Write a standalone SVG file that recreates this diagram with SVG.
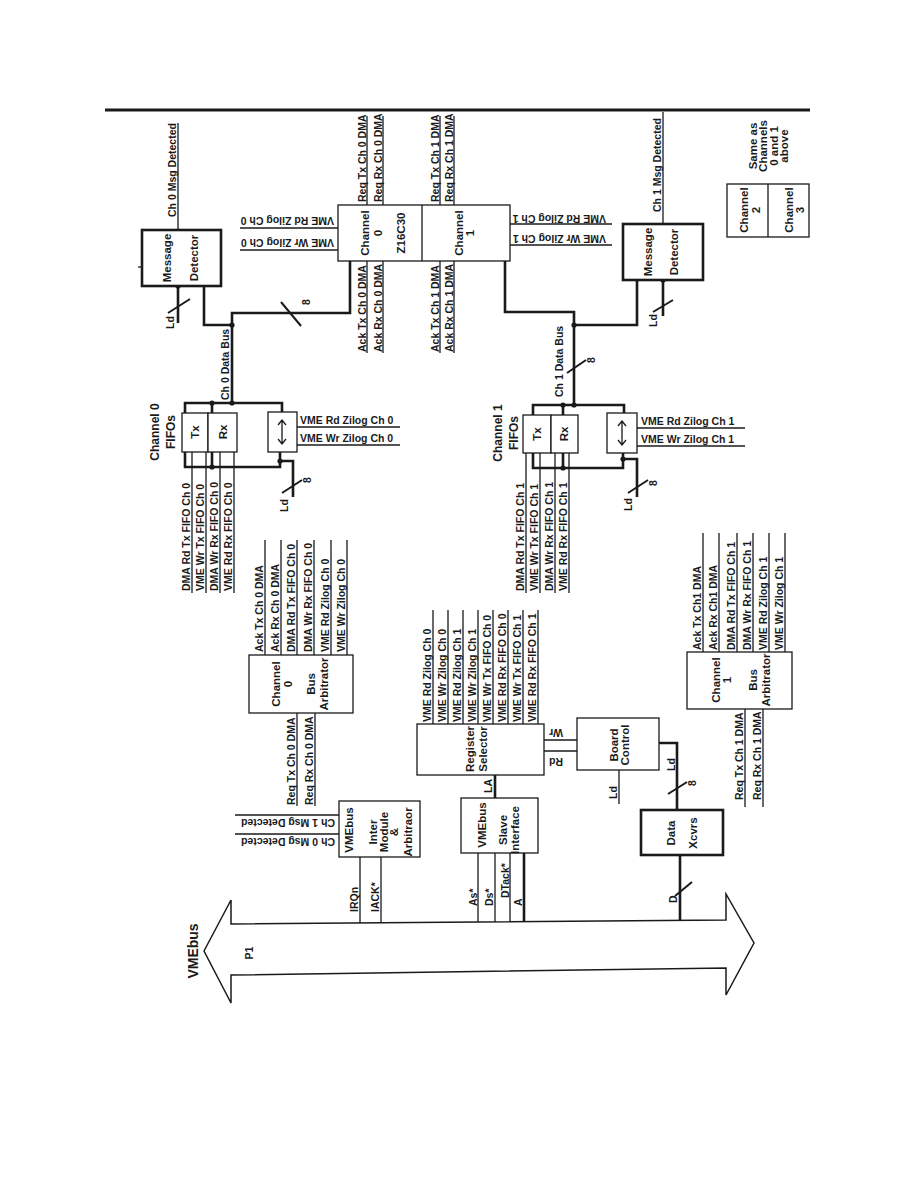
<svg xmlns="http://www.w3.org/2000/svg" width="918" height="1188" viewBox="0 0 918 1188">
<style>
text{font-family:"Liberation Sans",Arial,sans-serif;font-weight:bold;fill:#1a1a1a}
.s{font-size:10.5px}
.m{font-size:10.5px;text-anchor:middle}
.b{font-size:11.5px;text-anchor:middle}
.L{font-size:12px;text-anchor:middle}
.bx{fill:#fff;stroke:#1a1a1a;stroke-width:1.3}
.bk{fill:#fff;stroke:#1a1a1a;stroke-width:2.6}
.w{fill:none;stroke:#1a1a1a;stroke-width:1.3}
.t{fill:none;stroke:#1a1a1a;stroke-width:2.6}
.sl{fill:none;stroke:#1a1a1a;stroke-width:2}
.d{fill:#1a1a1a}
</style>
<rect width="918" height="1188" fill="#fff"/>
<line x1="105" y1="110" x2="810" y2="110" stroke="#1a1a1a" stroke-width="3"/>

<g id="connectors">
<line class="w" x1="367" y1="116" x2="367" y2="205"/>
<line class="w" x1="383" y1="116" x2="383" y2="205"/>
<line class="w" x1="367" y1="261" x2="367" y2="353"/>
<line class="w" x1="383" y1="261" x2="383" y2="353"/>
<line class="w" x1="440" y1="116" x2="440" y2="205"/>
<line class="w" x1="454" y1="116" x2="454" y2="205"/>
<line class="w" x1="440" y1="261" x2="440" y2="353"/>
<line class="w" x1="454" y1="261" x2="454" y2="353"/>
<line class="w" x1="240" y1="228" x2="338" y2="228"/>
<line class="w" x1="240" y1="250" x2="338" y2="250"/>
<line class="w" x1="510" y1="224" x2="612" y2="224"/>
<line class="w" x1="510" y1="245" x2="612" y2="245"/>
<line class="w" x1="178" y1="123" x2="178" y2="230"/>
<line class="w" x1="663" y1="112" x2="663" y2="224"/>
<line class="w" x1="138" y1="267" x2="142" y2="267"/>
<polyline class="t" points="350,261 350,313 232,313 232,403"/>
<polyline class="t" points="204,286 204,325 232,325"/>
<line class="t" x1="178" y1="286" x2="178" y2="323"/>
<line class="sl" x1="168" y1="313" x2="190" y2="299"/>
<line class="sl" x1="281" y1="302" x2="301" y2="326"/>
<circle class="d" cx="178" cy="286" r="2.6"/>
<circle class="d" cx="232" cy="325" r="2.6"/>
<polyline class="t" points="185,413 185,403 282,403 282,412"/>
<line class="t" x1="212" y1="403" x2="212" y2="413"/>
<polyline class="t" points="185,452 185,467 280,467 280,452"/>
<line class="t" x1="212" y1="452" x2="212" y2="467"/>
<polyline class="t" points="280,461 293,461 293,497"/>
<line class="sl" x1="282" y1="493" x2="302" y2="480"/>
<circle class="d" cx="212" cy="403" r="2.6"/>
<circle class="d" cx="232" cy="403" r="2.6"/>
<circle class="d" cx="212" cy="467" r="2.6"/>
<circle class="d" cx="280" cy="461" r="2.6"/>
<line class="w" x1="297" y1="427" x2="400" y2="427"/>
<line class="w" x1="297" y1="445" x2="400" y2="445"/>
<line class="w" x1="192" y1="452" x2="192" y2="593"/>
<line class="w" x1="206" y1="452" x2="206" y2="593"/>
<line class="w" x1="220" y1="452" x2="220" y2="593"/>
<line class="w" x1="234" y1="452" x2="234" y2="593"/>
<polyline class="t" points="505,259 505,312 574,312 574,405"/>
<polyline class="t" points="637,280 637,325 574,325"/>
<line class="t" x1="663" y1="280" x2="663" y2="316"/>
<line class="sl" x1="653" y1="312" x2="673" y2="300"/>
<line class="sl" x1="567" y1="373" x2="586" y2="360"/>
<circle class="d" cx="574" cy="325" r="2.6"/>
<circle class="d" cx="663" cy="280" r="2.6"/>
<polyline class="t" points="533,415 533,405 624,405 624,413"/>
<line class="t" x1="563" y1="405" x2="563" y2="415"/>
<polyline class="t" points="533,453 533,468 623,468 623,453"/>
<line class="t" x1="563" y1="453" x2="563" y2="468"/>
<polyline class="t" points="623,459 637,459 637,497"/>
<line class="sl" x1="628" y1="493" x2="648" y2="480"/>
<circle class="d" cx="563" cy="405" r="2.6"/>
<circle class="d" cx="574" cy="405" r="2.6"/>
<circle class="d" cx="563" cy="468" r="2.6"/>
<circle class="d" cx="623" cy="459" r="2.6"/>
<line class="w" x1="637" y1="428" x2="745" y2="428"/>
<line class="w" x1="637" y1="446" x2="745" y2="446"/>
<line class="w" x1="526" y1="453" x2="526" y2="593"/>
<line class="w" x1="540" y1="453" x2="540" y2="593"/>
<line class="w" x1="555" y1="453" x2="555" y2="593"/>
<line class="w" x1="569" y1="453" x2="569" y2="593"/>
<line class="w" x1="265" y1="540" x2="265" y2="655"/>
<line class="w" x1="281" y1="540" x2="281" y2="655"/>
<line class="w" x1="297" y1="540" x2="297" y2="655"/>
<line class="w" x1="314" y1="540" x2="314" y2="655"/>
<line class="w" x1="331" y1="540" x2="331" y2="655"/>
<line class="w" x1="347" y1="540" x2="347" y2="655"/>
<line class="w" x1="297" y1="713" x2="297" y2="806"/>
<line class="w" x1="315" y1="713" x2="315" y2="806"/>
<line class="w" x1="703" y1="533" x2="703" y2="652"/>
<line class="w" x1="719" y1="533" x2="719" y2="652"/>
<line class="w" x1="737" y1="533" x2="737" y2="652"/>
<line class="w" x1="753" y1="533" x2="753" y2="652"/>
<line class="w" x1="769" y1="533" x2="769" y2="652"/>
<line class="w" x1="785" y1="533" x2="785" y2="652"/>
<line class="w" x1="745" y1="709" x2="745" y2="807"/>
<line class="w" x1="763" y1="709" x2="763" y2="807"/>
<line class="w" x1="433" y1="610" x2="433" y2="724"/>
<line class="w" x1="448" y1="610" x2="448" y2="724"/>
<line class="w" x1="463" y1="610" x2="463" y2="724"/>
<line class="w" x1="478" y1="610" x2="478" y2="724"/>
<line class="w" x1="493" y1="610" x2="493" y2="724"/>
<line class="w" x1="508" y1="610" x2="508" y2="724"/>
<line class="w" x1="523" y1="610" x2="523" y2="724"/>
<line class="w" x1="538" y1="610" x2="538" y2="724"/>
<line class="w" x1="544" y1="740" x2="577" y2="740"/>
<line class="w" x1="544" y1="751" x2="577" y2="751"/>
<line class="t" x1="495" y1="775" x2="495" y2="798"/>
<line class="w" x1="619" y1="770" x2="619" y2="804"/>
<polyline class="t" points="659,743 677,743 677,810"/>
<line class="sl" x1="668" y1="794" x2="687" y2="782"/>
<line class="w" x1="235" y1="815" x2="339" y2="815"/>
<line class="w" x1="235" y1="834" x2="339" y2="834"/>
<line class="w" x1="360" y1="857" x2="360" y2="923"/>
<line class="w" x1="381" y1="857" x2="381" y2="923"/>
<line class="w" x1="478" y1="853" x2="478" y2="922"/>
<line class="w" x1="495" y1="853" x2="495" y2="922"/>
<line class="w" x1="510" y1="853" x2="510" y2="922"/>
<line class="t" x1="524" y1="853" x2="524" y2="922"/>
<line class="t" x1="680" y1="855" x2="680" y2="921"/>
<line class="sl" x1="675" y1="896" x2="692" y2="882"/>
</g>

<g id="vmebus">
<polygon fill="none" stroke="#1a1a1a" stroke-width="1.5" points="204,951 231,900 231,924 726,920 726,894 754,943 726,995 726,968 231,975 231,1003"/>
<text transform="translate(198,951) rotate(-90)" style="font-size:14px;text-anchor:middle">VMEbus</text>
<text class="m" transform="translate(253,953) rotate(-90)">P1</text>
</g>

<g id="labels">
<text class="s" transform="translate(365.5,202) rotate(-90)">Req Tx Ch 0 DMA</text>
<text class="s" transform="translate(381.5,202) rotate(-90)">Req Rx Ch 0 DMA</text>
<text class="s" transform="translate(365.5,352) rotate(-90)">Ack Tx Ch 0 DMA</text>
<text class="s" transform="translate(381.5,352) rotate(-90)">Ack Rx Ch 0 DMA</text>
<text class="s" transform="translate(438.5,202) rotate(-90)">Req Tx Ch 1 DMA</text>
<text class="s" transform="translate(452.5,202) rotate(-90)">Req Rx Ch 1 DMA</text>
<text class="s" transform="translate(438.5,352) rotate(-90)">Ack Tx Ch 1 DMA</text>
<text class="s" transform="translate(452.5,352) rotate(-90)">Ack Rx Ch 1 DMA</text>
<text class="s" transform="translate(334,217) rotate(180)">VME Rd Zilog Ch 0</text>
<text class="s" transform="translate(334,239) rotate(180)">VME Wr Zilog Ch 0</text>
<text class="s" transform="translate(606,215) rotate(180)">VME Rd Zilog Ch 1</text>
<text class="s" transform="translate(606,235) rotate(180)">VME Wr Zilog Ch 1</text>
<text class="s" transform="translate(176,217) rotate(-90)">Ch 0 Msg Detected</text>
<text class="s" transform="translate(661,212) rotate(-90)">Ch 1 Msg Detected</text>
<text class="s" transform="translate(174,329) rotate(-90)">Ld</text>
<text class="m" transform="translate(310,302) rotate(-90)">8</text>
<text class="s" transform="translate(229,400) rotate(-90)">Ch 0 Data Bus</text>
<text class="s" transform="translate(288,512) rotate(-90)">Ld</text>
<text class="m" transform="translate(311,480) rotate(-90)">8</text>
<text class="s" x="300" y="424">VME Rd Zilog Ch 0</text>
<text class="s" x="300" y="442">VME Wr Zilog Ch 0</text>
<text class="s" transform="translate(190,591) rotate(-90)">DMA Rd Tx FIFO Ch 0</text>
<text class="s" transform="translate(204,591) rotate(-90)">VME Wr Tx FIFO Ch 0</text>
<text class="s" transform="translate(218,591) rotate(-90)">DMA Wr Rx FIFO Ch 0</text>
<text class="s" transform="translate(232,591) rotate(-90)">VME Rd Rx FIFO Ch 0</text>
<text class="s" transform="translate(657,327) rotate(-90)">Ld</text>
<text class="m" transform="translate(595,360) rotate(-90)">8</text>
<text class="s" transform="translate(563,397) rotate(-90)">Ch 1 Data Bus</text>
<text class="s" transform="translate(632,511) rotate(-90)">Ld</text>
<text class="m" transform="translate(657,483) rotate(-90)">8</text>
<text class="s" x="641" y="425">VME Rd Zilog Ch 1</text>
<text class="s" x="641" y="443">VME Wr Zilog Ch 1</text>
<text class="s" transform="translate(524,591) rotate(-90)">DMA Rd Tx FIFO Ch 1</text>
<text class="s" transform="translate(538,591) rotate(-90)">VME Wr Tx FIFO Ch 1</text>
<text class="s" transform="translate(553,591) rotate(-90)">DMA Wr Rx FIFO Ch 1</text>
<text class="s" transform="translate(567,591) rotate(-90)">VME Rd Rx FIFO Ch 1</text>
<text class="s" transform="translate(263,652) rotate(-90)">Ack Tx Ch 0 DMA</text>
<text class="s" transform="translate(279,652) rotate(-90)">Ack Rx Ch 0 DMA</text>
<text class="s" transform="translate(295,652) rotate(-90)">DMA Rd Tx FIFO Ch 0</text>
<text class="s" transform="translate(312,652) rotate(-90)">DMA Wr Rx FIFO Ch 0</text>
<text class="s" transform="translate(329,652) rotate(-90)">VME Rd Zilog Ch 0</text>
<text class="s" transform="translate(345,652) rotate(-90)">VME Wr Zilog Ch 0</text>
<text class="s" transform="translate(295,805) rotate(-90)">Req Tx Ch 0 DMA</text>
<text class="s" transform="translate(313,805) rotate(-90)">Req Rx Ch 0 DMA</text>
<text class="s" transform="translate(701,650) rotate(-90)">Ack Tx Ch1 DMA</text>
<text class="s" transform="translate(717,650) rotate(-90)">Ack Rx Ch1 DMA</text>
<text class="s" transform="translate(735,650) rotate(-90)">DMA Rd Tx FIFO Ch 1</text>
<text class="s" transform="translate(751,650) rotate(-90)">DMA Wr Rx FIFO Ch 1</text>
<text class="s" transform="translate(767,650) rotate(-90)">VME Rd Zilog Ch 1</text>
<text class="s" transform="translate(783,650) rotate(-90)">VME Wr Zilog Ch 1</text>
<text class="s" transform="translate(743,800) rotate(-90)">Req Tx Ch 1 DMA</text>
<text class="s" transform="translate(761,800) rotate(-90)">Req Rx Ch 1 DMA</text>
<text class="s" transform="translate(431,722) rotate(-90)">VME Rd Zilog Ch 0</text>
<text class="s" transform="translate(446,722) rotate(-90)">VME Wr Zilog Ch 0</text>
<text class="s" transform="translate(461,722) rotate(-90)">VME Rd Zilog Ch 1</text>
<text class="s" transform="translate(476,722) rotate(-90)">VME Wr Zilog Ch 1</text>
<text class="s" transform="translate(491,722) rotate(-90)">VME Wr Tx FIFO Ch 0</text>
<text class="s" transform="translate(506,722) rotate(-90)">VME Rd Rx FIFO Ch 0</text>
<text class="s" transform="translate(521,722) rotate(-90)">VME Wr Tx FIFO Ch 1</text>
<text class="s" transform="translate(536,722) rotate(-90)">VME Rd Rx FIFO Ch 1</text>
<text class="s" transform="translate(563,729) rotate(180)">Wr</text>
<text class="s" transform="translate(563,758) rotate(180)">Rd</text>
<text class="s" transform="translate(492,793) rotate(-90)">LA</text>
<text class="s" transform="translate(617,799) rotate(-90)">Ld</text>
<text class="s" transform="translate(675,771) rotate(-90)">Ld</text>
<text class="m" transform="translate(696,783) rotate(-90)">8</text>
<text class="s" transform="translate(335,819) rotate(180)">Ch 1 Msg Detected</text>
<text class="s" transform="translate(335,838) rotate(180)">Ch 0 Msg Detected</text>
<text class="s" transform="translate(358,912) rotate(-90)">IRQn</text>
<text class="s" transform="translate(379,912) rotate(-90)">IACK*</text>
<text class="s" transform="translate(477,906) rotate(-90)">As*</text>
<text class="s" transform="translate(493,906) rotate(-90)">Ds*</text>
<text class="s" transform="translate(509,898) rotate(-90)">DTack*</text>
<text class="s" transform="translate(522,906) rotate(-90)">A</text>
<text class="s" transform="translate(677,903) rotate(-90)">D</text>
</g>

<g id="msgdet0">
<rect class="bk" x="142" y="230" width="79" height="56"/>
<text class="b" transform="translate(171,258) rotate(-90)">Message</text>
<text class="b" transform="translate(198,258) rotate(-90)">Detector</text>
</g>
<g id="msgdet1">
<rect class="bk" x="623" y="224" width="80" height="56"/>
<text class="b" transform="translate(652,252) rotate(-90)">Message</text>
<text class="b" transform="translate(678,252) rotate(-90)">Detector</text>
</g>
<g id="z16c30">
<rect class="bx" x="338" y="205" width="172" height="56"/>
<line class="w" x1="422" y1="205" x2="422" y2="261"/>
<text class="b" transform="translate(369,233) rotate(-90)">Channel</text>
<text class="b" transform="translate(382,233) rotate(-90)">0</text>
<text class="b" transform="translate(405,233) rotate(-90)">Z16C30</text>
<text class="b" transform="translate(463,233) rotate(-90)">Channel</text>
<text class="b" transform="translate(474,233) rotate(-90)">1</text>
</g>
<g id="channel23">
<rect class="bx" x="727" y="184" width="82" height="53"/>
<line class="w" x1="768" y1="184" x2="768" y2="237"/>
<text class="b" transform="translate(748,210) rotate(-90)">Channel</text>
<text class="b" transform="translate(760,210) rotate(-90)">2</text>
<text class="b" transform="translate(793,210) rotate(-90)">Channel</text>
<text class="b" transform="translate(804,210) rotate(-90)">3</text>
<text class="b" transform="translate(757,146) rotate(-90)">Same as</text>
<text class="b" transform="translate(767,146) rotate(-90)">Channels</text>
<text class="b" transform="translate(778,146) rotate(-90)">0 and 1</text>
<text class="b" transform="translate(788,146) rotate(-90)">above</text>
</g>
<g id="fifos0">
<text class="L" transform="translate(159,432) rotate(-90)">Channel 0</text>
<text class="L" transform="translate(175,432) rotate(-90)">FIFOs</text>
<rect class="bx" x="182" y="413" width="26" height="39"/>
<rect class="bx" x="208" y="413" width="29" height="39"/>
<text class="b" transform="translate(199,432) rotate(-90)">Tx</text>
<text class="b" transform="translate(227,432) rotate(-90)">Rx</text>
<rect class="bx" x="268" y="412" width="29" height="40"/>
<path class="w" d="M282,421 V443 M278,425 L282,420 L286,425 M278,439 L282,444 L286,439"/>
</g>
<g id="fifos1">
<text class="L" transform="translate(502,433) rotate(-90)">Channel 1</text>
<text class="L" transform="translate(518,433) rotate(-90)">FIFOs</text>
<rect class="bx" x="523" y="415" width="28" height="38"/>
<rect class="bx" x="551" y="415" width="27" height="38"/>
<text class="b" transform="translate(541,434) rotate(-90)">Tx</text>
<text class="b" transform="translate(568,434) rotate(-90)">Rx</text>
<rect class="bx" x="607" y="413" width="30" height="40"/>
<path class="w" d="M622,422 V444 M618,426 L622,421 L626,426 M618,440 L622,445 L626,440"/>
</g>
<g id="busarb0">
<rect class="bx" x="249" y="655" width="104" height="58"/>
<text class="b" transform="translate(280,684) rotate(-90)">Channel</text>
<text class="b" transform="translate(292,684) rotate(-90)">0</text>
<text class="b" transform="translate(315,684) rotate(-90)">Bus</text>
<text class="b" transform="translate(328,684) rotate(-90)">Arbitrator</text>
</g>
<g id="busarb1">
<rect class="bx" x="687" y="652" width="105" height="57"/>
<text class="b" transform="translate(720,680) rotate(-90)">Channel</text>
<text class="b" transform="translate(731,680) rotate(-90)">1</text>
<text class="b" transform="translate(757,680) rotate(-90)">Bus</text>
<text class="b" transform="translate(770,680) rotate(-90)">Arbitrator</text>
</g>
<g id="regsel">
<rect class="bx" x="417" y="724" width="127" height="51"/>
<text class="b" transform="translate(474,749) rotate(-90)">Register</text>
<text class="b" transform="translate(487,749) rotate(-90)">Selector</text>
</g>
<g id="boardctl">
<rect class="bx" x="577" y="718" width="82" height="52"/>
<text class="b" transform="translate(618,745) rotate(-90)">Board</text>
<text class="b" transform="translate(629,745) rotate(-90)">Control</text>
</g>
<g id="intermod">
<rect class="bx" x="339" y="801" width="81" height="56"/>
<text class="b" transform="translate(353,830) rotate(-90)">VMEbus</text>
<text class="b" transform="translate(377,832) rotate(-90)">Inter</text>
<text class="b" transform="translate(388,832) rotate(-90)">Module</text>
<text class="b" transform="translate(398,832) rotate(-90)">&amp;</text>
<text class="b" transform="translate(412,832) rotate(-90)">Arbitraor</text>
</g>
<g id="slaveif">
<rect class="bx" x="461" y="798" width="77" height="55"/>
<text class="b" transform="translate(486,825) rotate(-90)">VMEbus</text>
<text class="b" transform="translate(507,830) rotate(-90)">Slave</text>
<text class="b" transform="translate(519,830) rotate(-90)">Interface</text>
</g>
<g id="xcvrs">
<rect class="bk" x="641" y="810" width="82" height="45"/>
<text class="b" transform="translate(675,833) rotate(-90)">Data</text>
<text class="b" transform="translate(697,833) rotate(-90)">Xcvrs</text>
</g>
</svg>
